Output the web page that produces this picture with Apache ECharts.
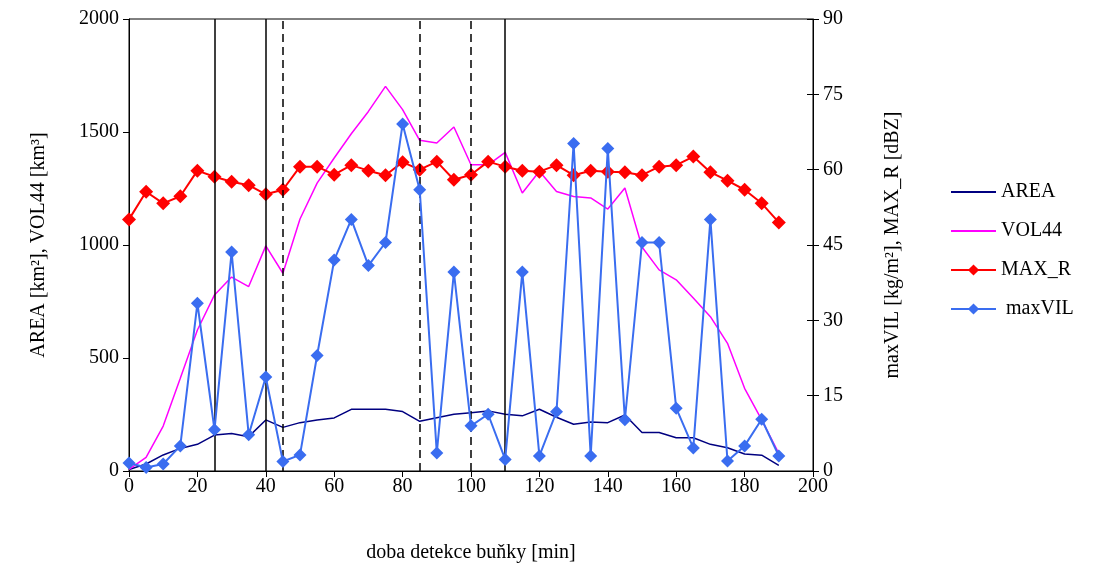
<!DOCTYPE html>
<html><head><meta charset="utf-8">
<script src="https://cdn.jsdelivr.net/npm/echarts@6/dist/echarts.min.js"></script>
<style>html,body{margin:0;padding:0;background:#fff}#c{width:1093px;height:573px}</style>
</head><body><div id="c"></div>
<script>
const times = [0,5,10,15,20,25,30,35,40,45,50,55,60,65,70,75,80,85,90,95,100,105,110,115,120,125,130,135,140,145,150,155,160,165,170,175,180,185,190];
const area = [7,31,71,100,118,159,166,152,226,193,214,226,235,273,273,273,263,220,236,251,258,266,251,244,273,238,207,217,214,248,170,170,147,147,118,103,75,70,25];
const vol44 = [7,60,199,410,624,779,858,816,996,875,1115,1274,1385,1492,1591,1702,1599,1463,1451,1522,1355,1355,1410,1230,1326,1237,1215,1208,1159,1252,991,890,846,765,683,565,366,226,78];
const maxR = [50.1,55.6,53.3,54.7,59.8,58.6,57.6,56.9,55.1,56.0,60.6,60.6,59.0,60.9,59.8,58.9,61.5,60.0,61.6,58.0,59.0,61.6,60.6,59.8,59.6,60.9,58.9,59.8,59.6,59.5,58.9,60.6,60.9,62.6,59.5,57.8,56.0,53.3,49.5];
const maxVIL = [1.6,0.7,1.4,5.0,33.4,8.2,43.6,7.2,18.7,1.9,3.2,23.0,42.0,50.1,40.9,45.5,69.1,56.0,3.6,39.6,9.0,11.3,2.3,39.6,3.0,11.8,65.2,3.0,64.2,10.2,45.5,45.5,12.5,4.6,50.1,2.0,5.0,10.3,3.0];
const solidLines = [25,40,110];
const dashedLines = [45,85,100];
const xTicks = {min:0,max:200,interval:20};
const leftTicks = {min:0,max:2000,interval:500};
const rightTicks = {min:0,max:90,interval:15};

const pairs = arr => times.map((t,i)=>[t,arr[i]]);
const font = 'Liberation Serif';
const plain = v => String(v);
const chart = echarts.init(document.getElementById('c'));
const markLines = solidLines.map(v=>({xAxis:v,lineStyle:{type:'solid'}}))
  .concat(dashedLines.map(v=>({xAxis:v,lineStyle:{type:[8,5]}})));
chart.setOption({
  animation:false,
  textStyle:{fontFamily:font},
  grid:{left:129,right:280,top:19,bottom:102,show:true,borderColor:'#000',borderWidth:1,backgroundColor:'transparent'},
  legend:{
    orient:'vertical',left:945,top:177,itemGap:19,itemWidth:45,itemHeight:14,itemTextGap:7,
    textStyle:{fontFamily:font,fontSize:20,color:'#000'},
    data:[{name:'AREA',itemStyle:{opacity:0}},{name:'VOL44',itemStyle:{opacity:0}},'MAX_R',' maxVIL']
  },
  xAxis:{
    type:'value',min:xTicks.min,max:xTicks.max,interval:xTicks.interval,
    name:'doba detekce buňky [min]',nameLocation:'middle',nameGap:72,
    nameTextStyle:{fontFamily:font,fontSize:20,color:'#000'},
    axisLine:{show:true,onZero:false,lineStyle:{color:'#000',width:1}},
    axisTick:{show:true,length:6,lineStyle:{color:'#000'}},
    axisLabel:{fontFamily:font,fontSize:20,color:'#000',margin:6,formatter:plain},
    splitLine:{show:false}
  },
  yAxis:[
    {type:'value',position:'left',min:leftTicks.min,max:leftTicks.max,interval:leftTicks.interval,
     name:'AREA [km²], VOL44 [km³]',nameLocation:'middle',nameGap:80,nameRotate:90,
     nameTextStyle:{fontFamily:font,fontSize:20,color:'#000'},
     axisLine:{show:true,lineStyle:{color:'#000'}},
     axisTick:{show:true,length:6,lineStyle:{color:'#000'}},
     axisLabel:{fontFamily:font,fontSize:20,color:'#000',margin:10,formatter:plain},
     splitLine:{show:false}},
    {type:'value',position:'right',min:rightTicks.min,max:rightTicks.max,interval:rightTicks.interval,
     name:'maxVIL [kg/m²], MAX_R [dBZ]',nameLocation:'middle',nameGap:70,nameRotate:90,
     nameTextStyle:{fontFamily:font,fontSize:20,color:'#000'},
     axisLine:{show:true,lineStyle:{color:'#000'}},
     axisTick:{show:true,length:6,lineStyle:{color:'#000'}},
     axisLabel:{fontFamily:font,fontSize:20,color:'#000',margin:10,formatter:plain},
     splitLine:{show:false}},
    {type:'value',position:'right',min:rightTicks.min,max:rightTicks.max,interval:rightTicks.interval,
     axisLine:{show:false},
     axisTick:{show:true,inside:true,length:6,lineStyle:{color:'#000'}},
     axisLabel:{show:false},splitLine:{show:false}}
  ],
  series:[
    {name:'AREA',type:'line',yAxisIndex:0,data:pairs(area),symbol:'none',
     lineStyle:{color:'#000080',width:1.5},itemStyle:{color:'#000080'},z:3,
     markLine:{silent:true,symbol:'none',label:{show:false},lineStyle:{color:'#000',width:1.5},data:markLines}},
    {name:'VOL44',type:'line',yAxisIndex:0,data:pairs(vol44),symbol:'none',
     lineStyle:{color:'#FF00FF',width:1.5},itemStyle:{color:'#FF00FF'},z:3},
    {name:'MAX_R',type:'line',yAxisIndex:1,data:pairs(maxR),symbol:'diamond',symbolSize:14,
     lineStyle:{color:'#FF0000',width:2},itemStyle:{color:'#FF0000'},z:4},
    {name:' maxVIL',type:'line',yAxisIndex:1,data:pairs(maxVIL),symbol:'diamond',symbolSize:13,
     lineStyle:{color:'#3A6DF0',width:2},itemStyle:{color:'#3A6DF0'},z:5}
  ]
});
</script></body></html>
